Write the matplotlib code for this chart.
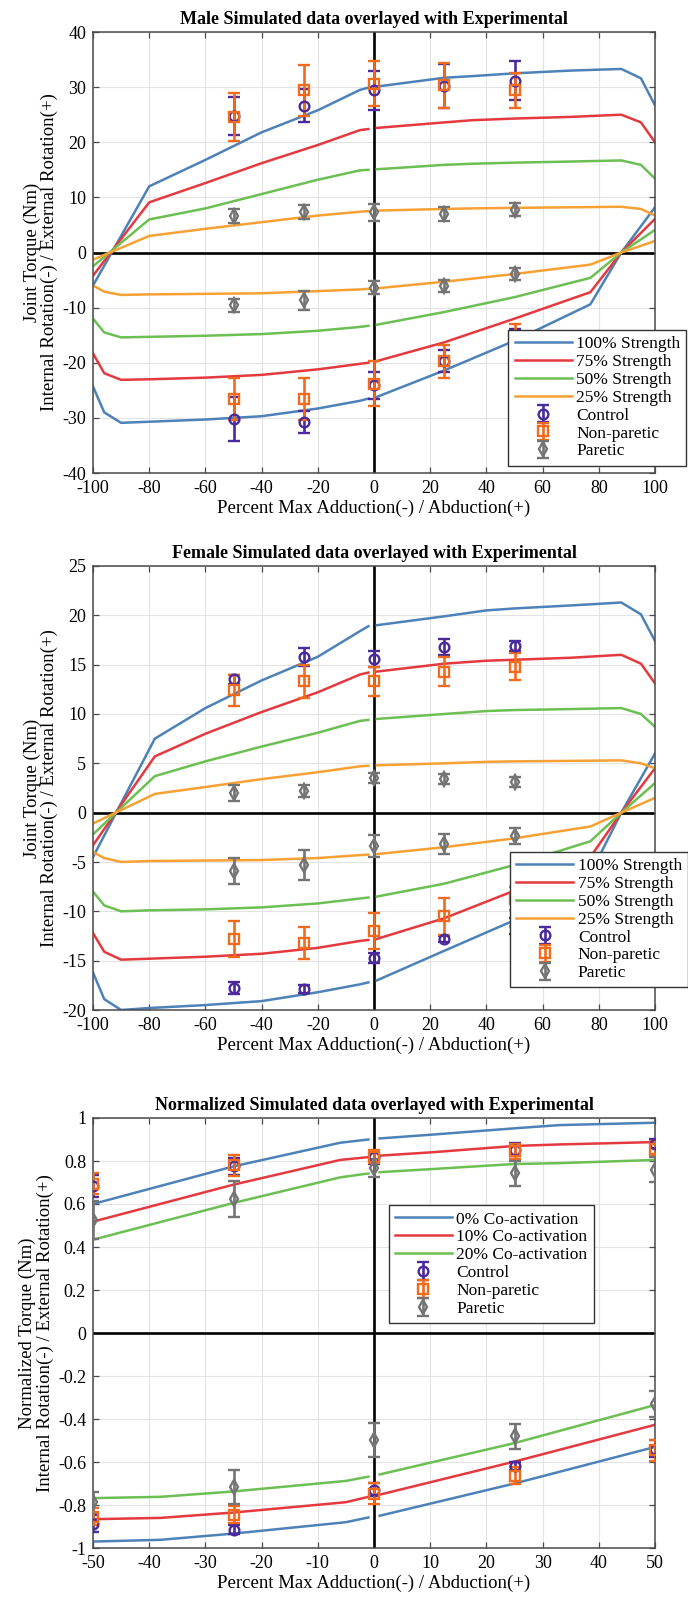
#!/usr/bin/env python3
"""Simulated vs experimental shoulder torque: male, female and normalized panels."""

import matplotlib

matplotlib.use("Agg")

import matplotlib.pyplot as plt
import numpy as np

nan = np.nan

# ---- colours -------------------------------------------------------------
BLUE = "#4d82b8"
RED = "#e4393f"
GREEN = "#6cbf52"
ORANGE = "#f7a135"
C_CONTROL = "#4a2a9c"
C_NONPARETIC = "#f26b1d"
C_PARETIC = "#747474"

# ---- shared experimental x positions -----------------------------------------
EXP_X = [-50, -25, 0, 25, 50]

# ---- male panel ------------------------------------------------------------
MALE_X_UP = [-100, -80, -60, -40, -20, -5, -2, nan, 1, 25, 35, 50, 70, 88, 95, 100]
MALE_UP_100 = [-6.0, 12.0, 16.8, 21.8, 25.8, 29.5, 29.9, nan, 30.1, 31.7, 32.0, 32.5, 33.0, 33.3, 31.6, 26.7]
MALE_UP_75 = [-4.2, 9.1, 12.6, 16.2, 19.5, 22.2, 22.4, nan, 22.6, 23.6, 24.0, 24.3, 24.6, 25.0, 23.6, 20.0]
MALE_UP_50 = [-2.5, 6.0, 8.0, 10.6, 13.2, 14.9, 15.0, nan, 15.1, 15.9, 16.1, 16.3, 16.5, 16.7, 15.9, 13.4]
MALE_UP_25 = [-1.3, 3.0, 4.3, 5.5, 6.7, 7.4, 7.5, nan, 7.6, 7.9, 8.0, 8.1, 8.2, 8.3, 7.9, 6.7]

MALE_X_LO = [-100, -96, -90, -80, -60, -40, -20, -5, -2, nan, 1, 25, 50, 77, 88, 100]
MALE_LO_100 = [-24.3, -29.0, -30.9, -30.7, -30.3, -29.7, -28.3, -26.9, -26.5, nan, -26.2, -21.4, -16.0, -9.4, 0.0, 8.2]
MALE_LO_75 = [-18.3, -21.9, -23.1, -23.0, -22.7, -22.2, -21.2, -20.2, -20.0, nan, -19.7, -16.3, -12.0, -7.2, 0.0, 6.1]
MALE_LO_50 = [-12.0, -14.5, -15.4, -15.3, -15.1, -14.8, -14.2, -13.5, -13.3, nan, -13.1, -10.8, -8.1, -4.6, 0.0, 4.1]
MALE_LO_25 = [-6.0, -7.1, -7.7, -7.6, -7.5, -7.4, -7.0, -6.7, -6.6, nan, -6.5, -5.3, -3.9, -2.2, 0.0, 2.1]

MALE_CTRL_UP = [24.8, 26.6, 29.4, 30.2, 31.2]
MALE_CTRL_UP_ERR = [3.4, 3.0, 3.5, 4.0, 3.5]
MALE_NONP_UP = [24.6, 29.4, 30.6, 30.3, 29.4]
MALE_NONP_UP_ERR = [4.4, 4.6, 4.1, 4.0, 3.2]
MALE_PAR_UP = [6.6, 7.4, 7.3, 7.0, 7.8]
MALE_PAR_UP_ERR = [1.3, 1.3, 1.5, 1.2, 1.2]
MALE_CTRL_LO = [-30.2, -30.8, -24.1, -19.6, -16.0]
MALE_CTRL_LO_ERR = [4.0, 2.0, 2.5, 2.0, 2.1]
MALE_NONP_LO = [-26.5, -26.5, -23.8, -19.7, -16.0]
MALE_NONP_LO_ERR = [3.8, 3.8, 4.1, 3.0, 3.1]
MALE_PAR_LO = [-9.6, -8.7, -6.4, -6.1, -3.9]
MALE_PAR_LO_ERR = [1.2, 1.7, 1.2, 1.1, 1.1]

# ---- female panel ----------------------------------------------------------
FEM_X_UP = [-100, -78, -60, -40, -20, -5, -2, nan, 1, 25, 40, 50, 70, 88, 95, 100]
FEM_UP_100 = [-4.5, 7.5, 10.6, 13.4, 15.8, 18.4, 18.9, nan, 19.0, 19.9, 20.5, 20.7, 21.0, 21.3, 20.1, 17.4]
FEM_UP_75 = [-3.3, 5.7, 8.0, 10.2, 12.2, 14.0, 14.2, nan, 14.3, 15.1, 15.4, 15.5, 15.7, 16.0, 15.1, 13.1]
FEM_UP_50 = [-2.2, 3.7, 5.2, 6.7, 8.1, 9.3, 9.4, nan, 9.5, 10.0, 10.3, 10.4, 10.5, 10.6, 10.0, 8.7]
FEM_UP_25 = [-1.1, 1.9, 2.6, 3.4, 4.1, 4.7, 4.75, nan, 4.8, 5.0, 5.15, 5.2, 5.25, 5.3, 5.0, 4.5]

FEM_X_LO = [-100, -96, -90, -80, -60, -40, -20, -5, -2, nan, 1, 25, 50, 77, 88, 100]
FEM_LO_100 = [-16.2, -18.9, -20.0, -19.8, -19.5, -19.1, -18.2, -17.4, -17.2, nan, -17.0, -14.0, -10.9, -6.2, 0.0, 6.0]
FEM_LO_75 = [-12.2, -14.1, -14.9, -14.8, -14.6, -14.3, -13.7, -13.0, -12.9, nan, -12.8, -10.7, -7.9, -4.5, 0.0, 4.5]
FEM_LO_50 = [-8.0, -9.4, -10.0, -9.9, -9.8, -9.6, -9.2, -8.7, -8.6, nan, -8.5, -7.2, -5.3, -2.9, 0.0, 3.0]
FEM_LO_25 = [-4.0, -4.6, -5.0, -4.9, -4.85, -4.8, -4.6, -4.3, -4.25, nan, -4.2, -3.5, -2.6, -1.4, 0.0, 1.5]

FEM_CTRL_UP = [13.5, 15.8, 15.6, 16.8, 16.9]
FEM_CTRL_UP_ERR = [0.5, 0.9, 0.8, 0.8, 0.5]
FEM_NONP_UP = [12.4, 13.3, 13.3, 14.3, 14.8]
FEM_NONP_UP_ERR = [1.6, 1.7, 1.5, 1.5, 1.4]
FEM_PAR_UP = [2.0, 2.2, 3.5, 3.4, 3.1]
FEM_PAR_UP_ERR = [0.8, 0.6, 0.5, 0.5, 0.5]
FEM_CTRL_LO = [-17.8, -17.9, -14.7, -12.8, -11.5]
FEM_CTRL_LO_ERR = [0.6, 0.4, 0.5, 0.3, 0.8]
FEM_NONP_LO = [-12.8, -13.2, -12.0, -10.5, -8.7]
FEM_NONP_LO_ERR = [1.8, 1.6, 1.8, 1.9, 1.2]
FEM_PAR_LO = [-5.9, -5.3, -3.4, -3.2, -2.4]
FEM_PAR_LO_ERR = [1.3, 1.5, 1.1, 1.0, 0.8]

# ---- normalized panel ------------------------------------------------------
NORM_X_UP = [-50, -25, -6, -1, nan, 1, 10, 25, 33, 50]
NORM_UP_0 = [0.600, 0.775, 0.885, 0.900, nan, 0.905, 0.922, 0.952, 0.967, 0.978]
NORM_UP_10 = [0.518, 0.690, 0.805, 0.818, nan, 0.825, 0.840, 0.870, 0.877, 0.888]
NORM_UP_20 = [0.434, 0.605, 0.724, 0.742, nan, 0.748, 0.762, 0.786, 0.790, 0.805]

NORM_X_LO = [-50, -38, -25, -5, -1, nan, 1, 25, 50]
NORM_LO_0 = [-0.970, -0.962, -0.933, -0.880, -0.858, nan, -0.850, -0.700, -0.530]
NORM_LO_10 = [-0.866, -0.860, -0.835, -0.787, -0.762, nan, -0.752, -0.598, -0.427]
NORM_LO_20 = [-0.768, -0.762, -0.737, -0.688, -0.668, nan, -0.658, -0.512, -0.335]

NORM_CTRL_UP = [0.683, 0.776, 0.817, 0.853, 0.881]
NORM_CTRL_UP_ERR = [0.05, 0.04, 0.03, 0.03, 0.02]
NORM_NONP_UP = [0.695, 0.780, 0.819, 0.845, 0.856]
NORM_NONP_UP_ERR = [0.05, 0.05, 0.03, 0.035, 0.035]
NORM_PAR_UP = [0.526, 0.624, 0.767, 0.742, 0.759]
NORM_PAR_UP_ERR = [0.09, 0.085, 0.04, 0.057, 0.058]
NORM_CTRL_LO = [-0.887, -0.915, -0.728, -0.619, -0.538]
NORM_CTRL_LO_ERR = [0.04, 0.02, 0.03, 0.02, 0.04]
NORM_NONP_LO = [-0.855, -0.845, -0.747, -0.663, -0.546]
NORM_NONP_LO_ERR = [0.04, 0.04, 0.05, 0.04, 0.05]
NORM_PAR_LO = [-0.788, -0.715, -0.497, -0.481, -0.330]
NORM_PAR_LO_ERR = [0.05, 0.08, 0.08, 0.06, 0.06]

XLABEL = "Percent Max Adduction(-) / Abduction(+)"


def configure_matplotlib():
    plt.rcParams.update(
        {
            "font.family": ["Liberation Serif", "DejaVu Serif"],
            "font.size": 12,
            "axes.unicode_minus": False,
            "axes.edgecolor": "#4a4a4a",
            "axes.linewidth": 1.1,
        }
    )


def style_axes(ax, xlim, ylim, xticks, yticks, ytick_labels=None):
    ax.set_xlim(*xlim)
    ax.set_ylim(*ylim)
    ax.set_xticks(xticks)
    ax.set_yticks(yticks)
    if ytick_labels is not None:
        ax.set_yticklabels(ytick_labels)
    ax.tick_params(direction="in", length=4, width=0.9, color="#4a4a4a",
                   top=True, right=True, labelsize=13, pad=5)
    ax.grid(True, color="#e3e3e3", linewidth=0.8, zorder=0)
    ax.set_axisbelow(True)
    ax.axhline(0, color="black", linewidth=1.9, zorder=1.5)
    ax.axvline(0, color="black", linewidth=1.9, zorder=1.5)


def draw_lines(ax, x_up, x_lo, ups, los, colors, labels):
    for y_up, y_lo, color, label in zip(ups, los, colors, labels):
        ax.plot(x_up, y_up, color=color, linewidth=1.8, label=label, zorder=2)
        ax.plot(x_lo, y_lo, color=color, linewidth=1.8, zorder=2)


def draw_markers(ax, groups):
    handles = []
    for label, color, marker, ms, y_up, e_up, y_lo, e_lo in groups:
        kw = dict(fmt=marker, color=color, markerfacecolor="none", markeredgecolor=color,
                  markersize=ms, markeredgewidth=1.7, elinewidth=1.9, capsize=4,
                  capthick=1.9, zorder=3)
        h = ax.errorbar(EXP_X, y_up, yerr=e_up, label=label, **kw)
        ax.errorbar(EXP_X, y_lo, yerr=e_lo, **kw)
        handles.append(h)
    return handles


def add_legend(ax, **kw):
    leg = ax.legend(fontsize=12.5, frameon=True, fancybox=False, framealpha=1,
                    edgecolor="#333333", handlelength=3.3, handletextpad=0.25,
                    labelspacing=0.1, borderpad=0.35, borderaxespad=0, **kw)
    leg.get_frame().set_linewidth(1.0)
    leg.set_zorder(5)
    return leg


def finish_panel(ax, title, ylabel):
    ax.set_title(title, fontsize=13, fontweight="bold", pad=6)
    ax.set_xlabel(XLABEL, fontsize=13.5, labelpad=2)
    ax.set_ylabel(ylabel, fontsize=13.5, labelpad=3, linespacing=1.0)


def build_figure():
    configure_matplotlib()
    fig = plt.figure(figsize=(6.88, 16.01), dpi=100)
    fig.patch.set_facecolor("white")

    strength_labels = ["100% Strength", "75% Strength", "50% Strength", "25% Strength"]
    colors4 = [BLUE, RED, GREEN, ORANGE]
    torque_label = "Joint Torque (Nm)\nInternal Rotation(-) / External Rotation(+)"

    # male
    ax1 = fig.add_axes([93 / 688, 1 - 473 / 1601, 562 / 688, 441 / 1601])
    style_axes(ax1, (-100, 100), (-40, 40), range(-100, 101, 20), range(-40, 41, 10))
    draw_lines(ax1, MALE_X_UP, MALE_X_LO,
               [MALE_UP_100, MALE_UP_75, MALE_UP_50, MALE_UP_25],
               [MALE_LO_100, MALE_LO_75, MALE_LO_50, MALE_LO_25], colors4, strength_labels)
    draw_markers(ax1, [
        ("Control", C_CONTROL, "o", 7, MALE_CTRL_UP, MALE_CTRL_UP_ERR, MALE_CTRL_LO, MALE_CTRL_LO_ERR),
        ("Non-paretic", C_NONPARETIC, "s", 6.5, MALE_NONP_UP, MALE_NONP_UP_ERR, MALE_NONP_LO, MALE_NONP_LO_ERR),
        ("Paretic", C_PARETIC, "d", 7.5, MALE_PAR_UP, MALE_PAR_UP_ERR, MALE_PAR_LO, MALE_PAR_LO_ERR),
    ])
    finish_panel(ax1, "Male Simulated data overlayed with Experimental", torque_label)
    add_legend(ax1, loc="lower right", bbox_to_anchor=(1.056, 0.017))

    # female
    ax2 = fig.add_axes([93 / 688, 1 - 1010 / 1601, 562 / 688, 444 / 1601])
    style_axes(ax2, (-100, 100), (-20, 25), range(-100, 101, 20), range(-20, 26, 5))
    draw_lines(ax2, FEM_X_UP, FEM_X_LO,
               [FEM_UP_100, FEM_UP_75, FEM_UP_50, FEM_UP_25],
               [FEM_LO_100, FEM_LO_75, FEM_LO_50, FEM_LO_25], colors4, strength_labels)
    draw_markers(ax2, [
        ("Control", C_CONTROL, "o", 7, FEM_CTRL_UP, FEM_CTRL_UP_ERR, FEM_CTRL_LO, FEM_CTRL_LO_ERR),
        ("Non-paretic", C_NONPARETIC, "s", 6.5, FEM_NONP_UP, FEM_NONP_UP_ERR, FEM_NONP_LO, FEM_NONP_LO_ERR),
        ("Paretic", C_PARETIC, "d", 7.5, FEM_PAR_UP, FEM_PAR_UP_ERR, FEM_PAR_LO, FEM_PAR_LO_ERR),
    ])
    finish_panel(ax2, "Female Simulated data overlayed with Experimental", torque_label)
    add_legend(ax2, loc="lower right", bbox_to_anchor=(1.059, 0.051))

    # normalized
    ax3 = fig.add_axes([93 / 688, 1 - 1548 / 1601, 562 / 688, 430 / 1601])
    yt = np.round(np.arange(-1.0, 1.01, 0.2), 1)
    ylabels = ["%g" % v if abs(v) > 1e-9 else "0" for v in yt]
    style_axes(ax3, (-50, 50), (-1, 1), range(-50, 51, 10), yt, ylabels)
    draw_lines(ax3, NORM_X_UP, NORM_X_LO,
               [NORM_UP_0, NORM_UP_10, NORM_UP_20],
               [NORM_LO_0, NORM_LO_10, NORM_LO_20], [BLUE, RED, GREEN],
               ["0% Co-activation", "10% Co-activation", "20% Co-activation"])
    draw_markers(ax3, [
        ("Control", C_CONTROL, "o", 7, NORM_CTRL_UP, NORM_CTRL_UP_ERR, NORM_CTRL_LO, NORM_CTRL_LO_ERR),
        ("Non-paretic", C_NONPARETIC, "s", 6.5, NORM_NONP_UP, NORM_NONP_UP_ERR, NORM_NONP_LO, NORM_NONP_LO_ERR),
        ("Paretic", C_PARETIC, "d", 7.5, NORM_PAR_UP, NORM_PAR_UP_ERR, NORM_PAR_LO, NORM_PAR_LO_ERR),
    ])
    finish_panel(ax3, "Normalized Simulated data overlayed with Experimental",
                 "Normalized Torque (Nm)\nInternal Rotation(-) / External Rotation(+)")
    add_legend(ax3, loc="upper left", bbox_to_anchor=(0.526, 0.797))

    return fig


def main():
    fig = build_figure()
    fig.savefig("out.png", dpi=100)
    plt.close(fig)


if __name__ == "__main__":
    main()
